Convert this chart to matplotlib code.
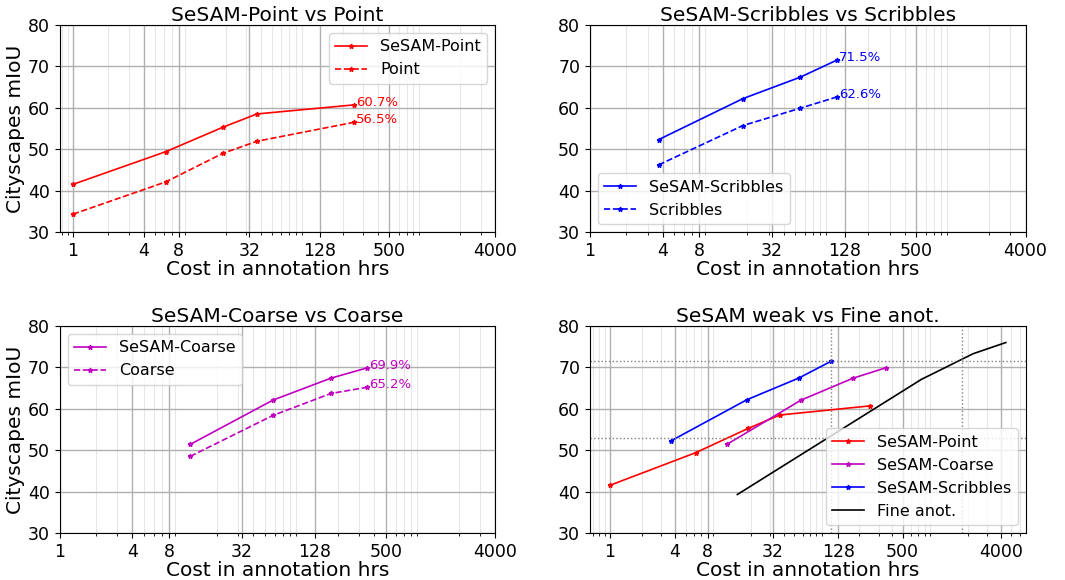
import matplotlib
matplotlib.use('Agg')
import matplotlib.pyplot as plt
from matplotlib.ticker import ScalarFormatter, FixedLocator

# cost in annotation hours / mIoU
point_x = [1, 6.2, 19, 37, 250]
sesam_point = [41.5, 49.4, 55.3, 58.5, 60.7]
point = [34.3, 42.1, 49.0, 51.9, 56.5]

scrib_x = [3.7, 18.4, 55, 110]
sesam_scrib = [52.3, 62.2, 67.4, 71.5]
scrib = [46.2, 55.7, 59.9, 62.6]

coarse_x = [12, 58, 175, 350]
sesam_coarse = [51.4, 62.1, 67.4, 69.9]
coarse = [48.5, 58.4, 63.7, 65.2]

fine_x = [15, 744, 2231, 4462]
fine = [39.3, 67.1, 73.3, 76.0]

# dotted reference lines on the last panel
ref_y = [71.5, 53.0]
ref_x = [110, 1746]

xticks = [1, 4, 8, 32, 128, 500, 4000]
yticks = [30, 40, 50, 60, 70, 80]

fig, axs = plt.subplots(2, 2, figsize=(10.65, 5.8), dpi=100)
plt.subplots_adjust(left=0.056, right=0.963, top=0.957, bottom=0.081, wspace=0.217, hspace=0.454)


def setup(ax, title, ylabel=True):
    ax.set_xscale('log')
    ax.xaxis.set_major_locator(FixedLocator(xticks))
    ax.xaxis.set_major_formatter(ScalarFormatter())
    ax.set_ylim(30, 80)
    ax.set_yticks(yticks)
    ax.tick_params(labelsize=12.5)
    ax.grid(which='major', color='#b0b0b0', lw=1)
    ax.grid(which='minor', color='#b0b0b0', lw=0.8, alpha=0.3)
    ax.set_title(title, fontsize=14.5, pad=3)
    ax.set_xlabel('Cost in annotation hrs', fontsize=14.5, labelpad=0)
    if ylabel:
        ax.set_ylabel('Cityscapes mIoU', fontsize=14.5, labelpad=2)


def tag(ax, x, y, c):
    ax.annotate('%.1f%%' % y, (x, y), xytext=(1.5, 2), textcoords='offset points',
                va='center', ha='left', color=c, fontsize=9.5)


kw = dict(marker='*', markersize=3.5, lw=1.2)

ax = axs[0, 0]
ax.plot(point_x, sesam_point, '-', color='red', label='SeSAM-Point', **kw)
ax.plot(point_x, point, '--', color='red', label='Point', **kw)
tag(ax, point_x[-1], sesam_point[-1], 'red')
tag(ax, point_x[-1], point[-1], 'red')
setup(ax, 'SeSAM-Point vs Point')
ax.set_xlim(0.77, 4000)
ax.legend(loc='upper right', fontsize=11.5)

ax = axs[0, 1]
ax.plot(scrib_x, sesam_scrib, '-', color='blue', label='SeSAM-Scribbles', **kw)
ax.plot(scrib_x, scrib, '--', color='blue', label='Scribbles', **kw)
tag(ax, scrib_x[-1], sesam_scrib[-1], 'blue')
tag(ax, scrib_x[-1], scrib[-1], 'blue')
setup(ax, 'SeSAM-Scribbles vs Scribbles', ylabel=False)
ax.set_xlim(1, 4000)
ax.legend(loc='lower left', fontsize=11.5)

ax = axs[1, 0]
ax.plot(coarse_x, sesam_coarse, '-', color='m', label='SeSAM-Coarse', **kw)
ax.plot(coarse_x, coarse, '--', color='m', label='Coarse', **kw)
tag(ax, coarse_x[-1], sesam_coarse[-1], 'm')
tag(ax, coarse_x[-1], coarse[-1], 'm')
setup(ax, 'SeSAM-Coarse vs Coarse')
ax.set_xlim(1, 4000)
ax.legend(loc='upper left', fontsize=11.5)

ax = axs[1, 1]
ax.plot(point_x, sesam_point, '-', color='red', label='SeSAM-Point', **kw)
ax.plot(coarse_x, sesam_coarse, '-', color='m', label='SeSAM-Coarse', **kw)
ax.plot(scrib_x, sesam_scrib, '-', color='blue', label='SeSAM-Scribbles', **kw)
ax.plot(fine_x, fine, '-', color='black', lw=1.2, label='Fine anot.')
for v in ref_y:
    ax.axhline(v, color='grey', ls=':', lw=1)
for v in ref_x:
    ax.axvline(v, color='grey', ls=':', lw=1)
setup(ax, 'SeSAM weak vs Fine anot.', ylabel=False)
ax.legend(loc='lower right', fontsize=11.5)

fig.savefig('out.png', dpi=100)
